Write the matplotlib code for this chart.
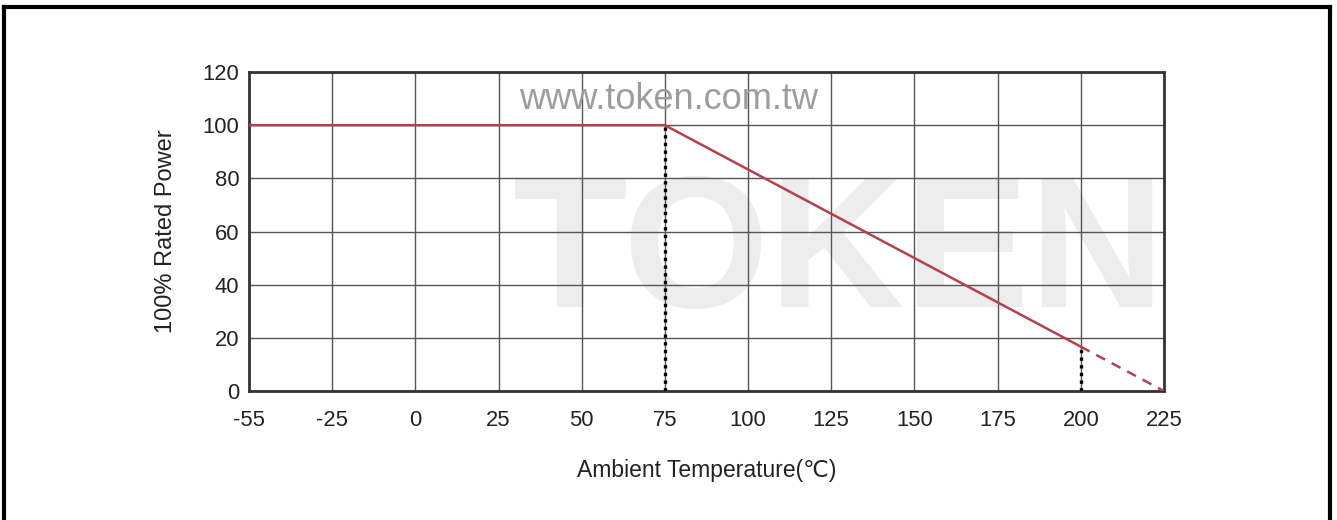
import matplotlib.pyplot as plt
from matplotlib.lines import Line2D

# Data
temp_labels = ['-55', '-25', '0', '25', '50', '75', '100', '125', '150', '175', '200', '225']
power_ticks = [0, 20, 40, 60, 80, 100, 120]

# curve points as (tick index, % power)
solid_x = [0, 5, 10]          # -55, 75, 200
solid_y = [100, 100, 16.7]
dash_x = [10, 11]             # 200 -> 225
dash_y = [16.7, 0]
knee_x = [5, 10]              # dotted drop lines at 75 and 200
knee_y = [100, 16.7]

fam = ['Liberation Sans', 'DejaVu Sans']
plt.rcParams['font.family'] = fam

fig = plt.figure(figsize=(13.37, 5.2), dpi=100)
ax = fig.add_axes([0.1862, 0.248, 0.6844, 0.6135])

# faint watermark
ax.text(7.1, 50, 'TOKEN', fontsize=135, color='#ededed', ha='center', va='center',
        fontweight='bold', zorder=0)
ax.text(5.04, 109.5, 'www.token.com.tw', fontsize=26, color='#9d9d9d', ha='center',
        va='center', zorder=1)

ax.plot(solid_x, solid_y, color='#b5404e', lw=1.8, zorder=4)
ax.plot(dash_x, dash_y, color='#b5404e', lw=1.8, ls=(0, (4, 3)), zorder=4)
for kx, ky in zip(knee_x, knee_y):
    ax.plot([kx, kx], [0, ky], color='black', lw=2.4, ls=(0, (1, 1.3)), zorder=3)

ax.set_xlim(0, len(temp_labels) - 1)
ax.set_ylim(0, 120)
ax.set_xticks(range(len(temp_labels)))
ax.set_xticklabels(temp_labels)
ax.set_yticks(power_ticks)
ax.tick_params(length=0, labelsize=15.8, colors='#222222')
ax.tick_params(axis='x', pad=14)
ax.tick_params(axis='y', pad=7)
ax.grid(True, color='#555555', lw=1.0, zorder=2)
ax.set_axisbelow(True)
for s in ax.spines.values():
    s.set_color('#333333')
    s.set_linewidth(2)

ax.set_xlabel('Ambient Temperature(℃)', fontsize=16.5, color='#222222', labelpad=20)
ax.set_ylabel('100% Rated Power', fontsize=17, color='#222222', labelpad=18)

# outer frame (left, top, right)
W, H = 1337, 520
fig.add_artist(Line2D([3.5 / W, 3.5 / W], [0, 1 - 7 / H], color='black', lw=3))
fig.add_artist(Line2D([3.5 / W, 1330 / W], [1 - 7 / H, 1 - 7 / H], color='black', lw=3))
fig.add_artist(Line2D([1330 / W, 1330 / W], [0, 1 - 7 / H], color='black', lw=3))

fig.savefig('out.png', dpi=100)
